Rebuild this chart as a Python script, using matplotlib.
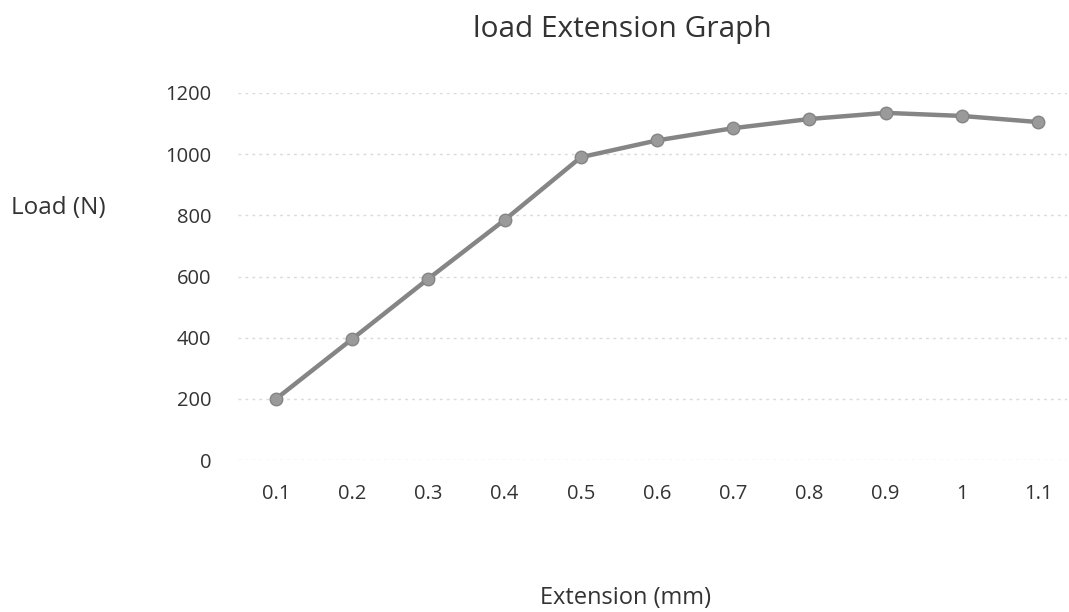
import numpy as np
import matplotlib.pyplot as plt

# data
extension = ['0.1', '0.2', '0.3', '0.4', '0.5', '0.6', '0.7', '0.8', '0.9', '1', '1.1']
load = [200, 396, 593, 785, 990, 1045, 1085, 1115, 1135, 1125, 1105]
y_ticks = [0, 200, 400, 600, 800, 1000, 1200]

plt.rcParams['font.family'] = ['Open Sans', 'DejaVu Sans']

fig = plt.figure(figsize=(10.69, 6.12), dpi=100)
ax = fig.add_axes([238 / 1069, 152 / 612, (1067 - 238) / 1069, (460 - 93) / 612])

x = np.arange(len(extension))
ax.plot(x, load, color='#858585', linewidth=3.2, marker='o', markersize=9,
        markerfacecolor='#9a9a9a', markeredgecolor='#858585', zorder=3)

ax.set_xlim(-0.5, 10.38)
ax.set_ylim(0, 1200)
ax.set_xticks(x)
ax.set_xticklabels(extension)
ax.set_yticks(y_ticks)

# faint dotted gridlines like the scanned excel chart
ax.grid(axis='y', color='#dadada', linestyle=(0, (2, 3)), linewidth=1)
ax.set_axisbelow(True)
for side in ['top', 'right', 'left', 'bottom']:
    ax.spines[side].set_visible(False)
ax.tick_params(axis='both', length=0, labelsize=14.5, colors='#333333')
ax.tick_params(axis='y', pad=19)
ax.tick_params(axis='x', pad=17)

fig.text(622 / 1069, 1 - 29 / 612, 'load Extension Graph', ha='center', va='center',
         fontsize=21.5, color='#333333')
fig.text(58 / 1069, 1 - 208 / 612, 'Load (N)', ha='center', va='center',
         fontsize=17.5, color='#333333')
fig.text(626 / 1069, 1 - 598 / 612, 'Extension (mm)', ha='center', va='center',
         fontsize=17, color='#333333')

plt.savefig('out.png', dpi=100)
